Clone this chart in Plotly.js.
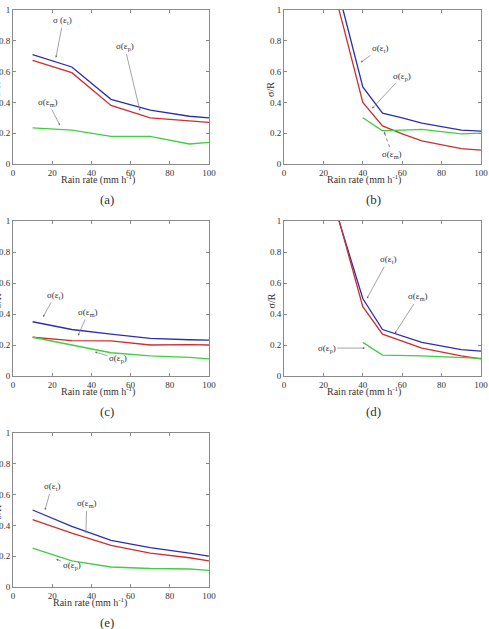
<!DOCTYPE html>
<html>
<head>
<meta charset="utf-8">
<script src="https://cdn.plot.ly/plotly-3.0.1.min.js"></script>
<style>
  html, body { margin: 0; padding: 0; background: #fff; }
  #chart { width: 489px; height: 629px; }
</style>
</head>
<body>
<div id="chart"></div>
<script>
// Rain-rate samples (mm h^-1) and normalised error sigma/R for each panel
const rainA = [10, 30, 50, 70, 90, 100];
const tA = [0.71, 0.63, 0.42, 0.35, 0.31, 0.30];
const pA = [0.673, 0.593, 0.38, 0.30, 0.28, 0.27];
const mA = [0.234, 0.22, 0.18, 0.18, 0.13, 0.14];

const rainB = [20, 30, 40, 50, 60, 70, 90, 100];
const tB = [1.6, 1.0, 0.50, 0.33, 0.30, 0.265, 0.22, 0.214];
const pB = [1.38, 0.90, 0.40, 0.247, 0.195, 0.15, 0.10, 0.09];
const mB = [null, null, 0.30, 0.216, 0.22, 0.225, 0.195, 0.20];

const rainC = [10, 30, 50, 70, 90, 100];
const tC = [0.35, 0.30, 0.27, 0.243, 0.234, 0.232];
const mC = [0.25, 0.228, 0.226, 0.20, 0.203, 0.20];
const pC = [0.25, 0.20, 0.15, 0.13, 0.12, 0.11];

const rainD = [20, 30, 40, 50, 70, 90, 100];
const tD = [1.33, 0.917, 0.50, 0.30, 0.217, 0.17, 0.16];
const mD = [1.37, 0.908, 0.447, 0.27, 0.18, 0.13, 0.11];
const pD = [null, null, 0.217, 0.135, 0.13, 0.12, 0.114];

const rainE = [10, 30, 50, 70, 90, 100];
const tE = [0.50, 0.394, 0.303, 0.256, 0.22, 0.20];
const mE = [0.437, 0.35, 0.27, 0.22, 0.19, 0.17];
const pE = [0.253, 0.17, 0.13, 0.12, 0.117, 0.108];

const xTicks = [0, 20, 40, 60, 80, 100];
const yTicks = [0, 0.2, 0.4, 0.6, 0.8, 1];
const yTickText = ['0', '0.2', '0.4', '0.6', '0.8', '1'];
const panelLabels = ['(a)', '(b)', '(c)', '(d)', '(e)'];

const BLUE = '#2e2eaa', RED = '#cc2f2f', GREEN = '#3fcf3f';
const W = 489, H = 629;
const serif = 'Liberation Serif, Times New Roman, serif';

// panel boxes in pixels: [left, right, top, bottom]
const boxes = [
  [13, 209, 10, 164],
  [284, 481, 10, 164],
  [13, 209, 221, 376],
  [284, 481, 221, 376],
  [13, 209, 433, 587]
];

const traces = [];
function line(x, y, color, k) {
  traces.push({
    x: x, y: y, type: 'scatter', mode: 'lines',
    line: {color: color, width: 1.3},
    xaxis: k === 0 ? 'x' : 'x' + (k + 1),
    yaxis: k === 0 ? 'y' : 'y' + (k + 1),
    hoverinfo: 'skip', showlegend: false
  });
}
line(rainA, tA, BLUE, 0); line(rainA, pA, RED, 0); line(rainA, mA, GREEN, 0);
line(rainB, tB, BLUE, 1); line(rainB, pB, RED, 1); line(rainB, mB, GREEN, 1);
line(rainC, tC, BLUE, 2); line(rainC, mC, RED, 2); line(rainC, pC, GREEN, 2);
line(rainD, tD, BLUE, 3); line(rainD, mD, RED, 3); line(rainD, pD, GREEN, 3);
line(rainE, tE, BLUE, 4); line(rainE, mE, RED, 4); line(rainE, pE, GREEN, 4);

const layout = {
  width: W, height: H,
  margin: {l: 0, r: 0, t: 0, b: 0},
  paper_bgcolor: '#fff', plot_bgcolor: '#fff',
  showlegend: false,
  annotations: [],
  shapes: []
};

const axisCommon = {
  showline: true, linecolor: '#8a8a8a', linewidth: 1, mirror: 'ticks',
  ticks: 'inside', ticklen: 3, tickcolor: '#8a8a8a', tickwidth: 1,
  showgrid: false, zeroline: false, fixedrange: true,
  tickfont: {family: serif, size: 9, color: '#333'}
};

function paperText(px, py, text, size, angle) {
  return {
    xref: 'paper', yref: 'paper', x: px / W, y: 1 - py / H,
    xanchor: 'center', yanchor: 'middle',
    text: text, showarrow: false, textangle: angle || 0,
    font: {family: serif, size: size, color: '#333'}
  };
}

boxes.forEach((b, k) => {
  const sx = k === 0 ? '' : String(k + 1);
  const left = b[0] < 100;
  layout['xaxis' + sx] = Object.assign({}, axisCommon, {
    domain: [b[0] / W, b[1] / W], anchor: 'y' + sx,
    range: [0, 100], tickvals: xTicks, ticktext: xTicks.map(String)
  });
  layout['yaxis' + sx] = Object.assign({}, axisCommon, {
    domain: [1 - b[3] / H, 1 - b[2] / H], anchor: 'x' + sx,
    range: [0, 1], tickvals: yTicks, ticktext: yTickText
  });
  // x-axis title
  const cx = left ? 98 : 364;
  layout.annotations.push(paperText(k === 4 ? 90 : cx, b[3] + 15, 'Rain rate (mm h<sup>-1</sup>)', 10));
  // y-axis title (the left column sits right against the page edge)
  layout.annotations.push(paperText(b[0] - (left ? 16 : 13), (b[2] + b[3]) / 2 + 3, 'σ/R', 10, -90));
  // panel label
  layout.annotations.push(paperText(left ? 107 : 373, b[3] + 35, panelLabels[k], 13));
});

// curve labels with pointer arrows: [panel, text, targetX, targetY, labelX, labelY]
const pointers = [
  [0, 'σ (ε<sub>t</sub>)', 21.9, 0.69, 25.5, 0.93],
  [0, 'σ(ε<sub>p</sub>)', 64.8, 0.345, 57, 0.76],
  [0, 'σ(ε<sub>m</sub>)', 24, 0.25, 17.9, 0.40],
  [1, 'σ(ε<sub>t</sub>)', 39, 0.66, 48.7, 0.75],
  [1, 'σ(ε<sub>p</sub>)', 44.7, 0.36, 60, 0.57],
  [2, 'σ(ε<sub>t</sub>)', 15.3, 0.38, 21.4, 0.52],
  [2, 'σ(ε<sub>m</sub>)', 33.2, 0.26, 38.3, 0.41],
  [2, 'σ(ε<sub>p</sub>)', 41.8, 0.155, 53.6, 0.11],
  [3, 'σ(ε<sub>t</sub>)', 42.1, 0.50, 52.8, 0.75],
  [3, 'σ(ε<sub>m</sub>)', 56.3, 0.275, 68.2, 0.51],
  [3, 'σ(ε<sub>p</sub>)', 41.1, 0.18, 21.7, 0.18],
  [4, 'σ(ε<sub>t</sub>)', 16.3, 0.50, 19.7, 0.65],
  [4, 'σ(ε<sub>m</sub>)', 37.2, 0.35, 37.6, 0.54],
  [4, 'σ(ε<sub>p</sub>)', 22, 0.18, 29.9, 0.14]
];
pointers.forEach(p => {
  const sx = p[0] === 0 ? '' : String(p[0] + 1);
  layout.annotations.push({
    xref: 'x' + sx, yref: 'y' + sx, axref: 'x' + sx, ayref: 'y' + sx,
    x: p[2], y: p[3], ax: p[4], ay: p[5],
    xanchor: 'center', yanchor: 'middle',
    text: p[1], showarrow: true,
    arrowhead: 2, arrowsize: 0.7, arrowwidth: 0.6, arrowcolor: '#666',
    font: {family: serif, size: 9, color: '#333'}
  });
});

// panel (b): the sigma(eps_m) label points up with a dotted leader
layout.annotations.push({
  xref: 'x2', yref: 'y2', x: 54.7, y: 0.06, xanchor: 'center', yanchor: 'middle',
  text: 'σ(ε<sub>m</sub>)', showarrow: false,
  font: {family: serif, size: 9, color: '#333'}
});
layout.shapes.push({
  type: 'line', xref: 'x2', yref: 'y2', x0: 53.6, y0: 0.11, x1: 51.2, y1: 0.195,
  line: {color: '#666', width: 0.8, dash: 'dot'}
});
layout.annotations.push({
  xref: 'x2', yref: 'y2', axref: 'x2', ayref: 'y2',
  x: 50.9, y: 0.21, ax: 51.5, ay: 0.18, text: '', showarrow: true,
  arrowhead: 2, arrowsize: 0.7, arrowwidth: 0.6, arrowcolor: '#666'
});

Plotly.newPlot('chart', traces, layout, {staticPlot: true, displayModeBar: false});
</script>
</body>
</html>
